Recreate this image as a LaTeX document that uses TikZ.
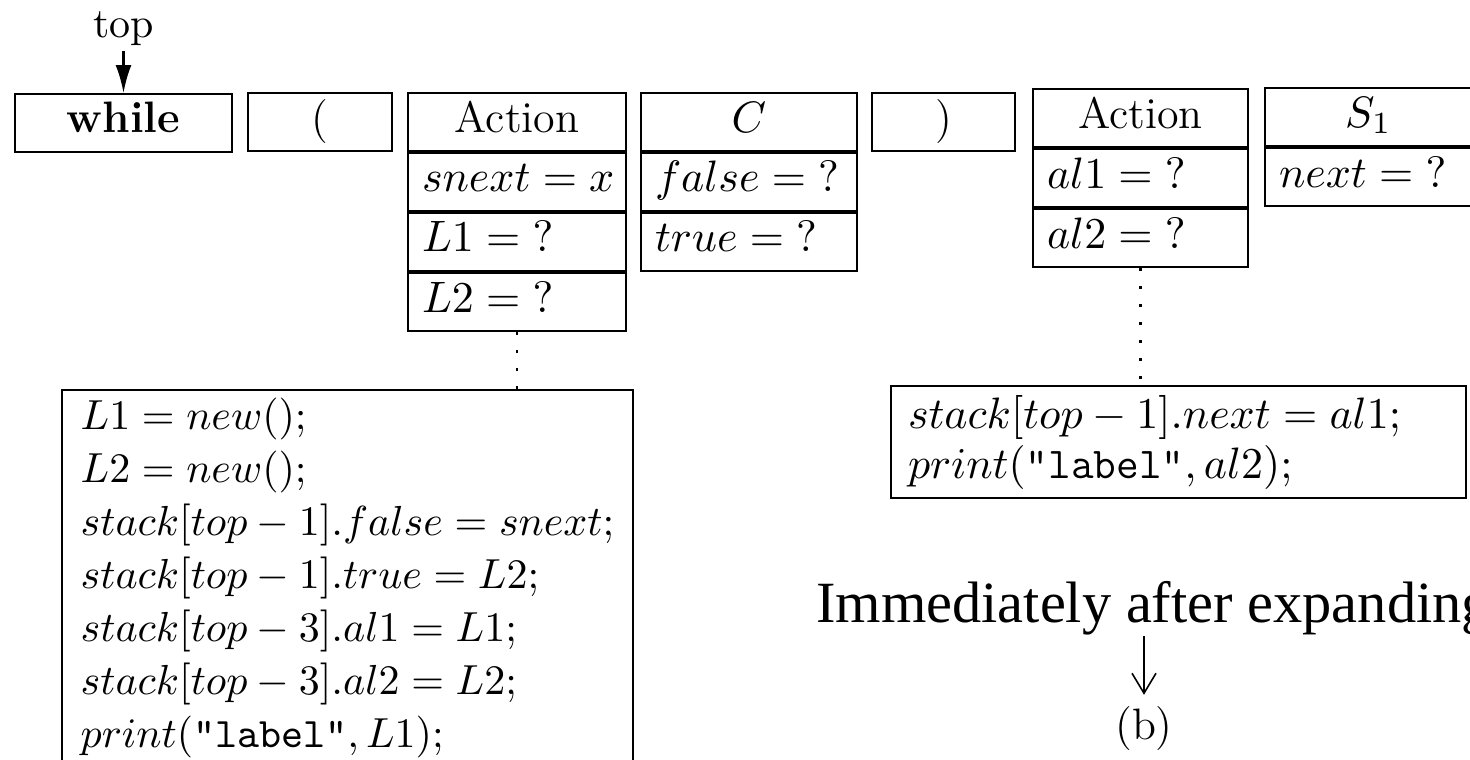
\documentclass[tikz,border=0pt]{standalone}
\usepackage{fix-cm}
\usepackage{fontspec}
\newfontfamily\capfont{Liberation Serif}
\usetikzlibrary{arrows.meta,positioning}
\relpenalty=10000
\binoppenalty=10000

\begin{document}
\begin{tikzpicture}[x=0.25pt,y=-0.25pt,line width=0.6pt,
  font=\fontsize{11}{13}\selectfont,
  cell/.style={draw,inner xsep=3.5pt,inner ysep=0pt,minimum height=14.4pt,
    text height=0.75em,text depth=0.25em},
  field/.style={cell,align=left,text width=#1},
  code/.style={draw,align=left,anchor=north,inner xsep=3.5pt},
  link/.style={line width=0.6pt,dash pattern=on 0.8pt off 3.7pt}]
\useasboundingbox (0,0) rectangle (1470,760);
\clip (0,0) rectangle (1470,760);
\node[cell,minimum width=54.25pt,anchor=north] (kw) at (123.5,93) {\textbf{while}};
\node[cell,minimum width=36pt,anchor=north] (lp) at (320,92) {(};
\node[cell,minimum width=54.5pt,anchor=north] (act1) at (517,92) {Action};
\node[field=47.5pt,below=0pt of act1] (act1a) {$snext=x$};
\node[field=47.5pt,below=0pt of act1a] (act1b) {$L1={?}$};
\node[field=47.5pt,below=0pt of act1b] (act1c) {$L2={?}$};
\node[cell,minimum width=54pt,anchor=north] (cond) at (749,92) {$C$};
\node[field=47pt,below=0pt of cond] (conda) {$false={?}$};
\node[field=47pt,below=0pt of conda] (condb) {$true={?}$};
\node[cell,minimum width=35.75pt,anchor=north] (rp) at (943.5,92) {)};
\node[cell,minimum width=53.75pt,anchor=north] (act2) at (1140.5,88) {Action};
\node[field=46.75pt,below=0pt of act2] (act2a) {$al1={?}$};
\node[field=46.75pt,below=0pt of act2a] (act2b) {$al2={?}$};
\node[cell,minimum width=51.75pt,anchor=north] (body) at (1368.5,87) {$S_1$};
\node[field=44.75pt,below=0pt of body] (bodya) {$next={?}$};
\node[inner sep=1pt,font=\fontsize{10.5}{12}\selectfont] (toplbl) at (123.5,29) {top};
\draw[-{Latex[length=7pt,width=4pt]}] (toplbl) -- (kw);
\node[code,minimum width=142.75pt,inner xsep=3pt,inner ysep=2pt,font=\fontsize{10.5}{13.25}\selectfont]
  (codeL) at (347.5,389) {$L1=new();$\\
  $L2=new();$\\
  $stack[top-1].false=snext;$\\
  $stack[top-1].true=L2;$\\
  $stack[top-3].al1=L1;$\\
  $stack[top-3].al2=L2;$\\
  $print(\mbox{\texttt{"label"}},L1);$\rule[-20pt]{0pt}{1pt}};
\node[code,text width=135.25pt,inner xsep=4.25pt,inner ysep=2.25pt,font=\fontsize{11}{12.5}\selectfont]
  (codeR) at (1178.5,385) {$stack[top-1].next=al1;$\\
  $print(\mbox{\texttt{"label"}},al2);$};
\draw[link] (act1c.south) -- (act1c.south |- codeL.north);
\draw[link] (act2b.south) -- (act2b.south |- codeR.north);
\node[anchor=base west,inner sep=0pt,font=\capfont\fontsize{14.6}{17}\selectfont]
  (caption) at (815,622) {Immediately after expanding};
\node[anchor=base,inner sep=2.5pt,font=\fontsize{11}{13}\selectfont] (sub) at (1144,739) {(b)};
\draw[line width=0.4pt,-{Straight Barb[length=5pt,width=6pt]}] (caption.south -| sub.north) -- (sub.north);
\end{tikzpicture}
\end{document}
